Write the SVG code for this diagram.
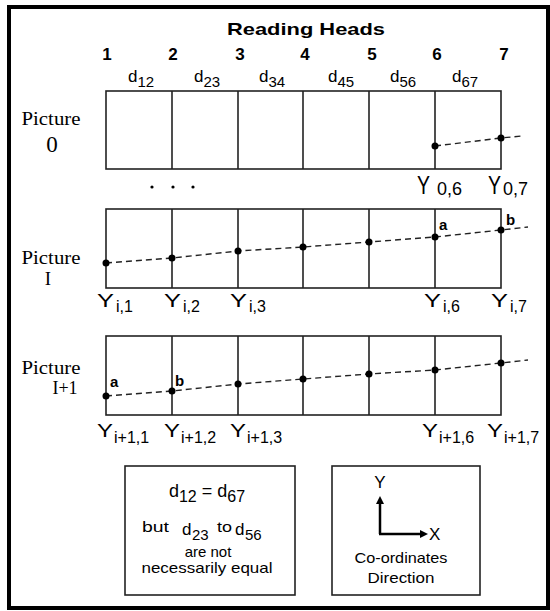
<svg xmlns="http://www.w3.org/2000/svg" width="550" height="611" viewBox="0 0 550 611">
<style>
.box{fill:none;stroke:#222;stroke-width:1.6}
.cell{stroke:#222;stroke-width:1.6}
.dash{fill:none;stroke:#222;stroke-width:1.4;stroke-dasharray:6 4}
.dot{fill:#000}
.sans{font-family:"Liberation Sans",Arial,sans-serif;fill:#000}
.serif{font-family:"Liberation Serif","Times New Roman",serif;fill:#000}
.b{font-weight:bold}
.num{font-family:"Liberation Sans",Arial,sans-serif;font-weight:bold;font-size:17px;text-anchor:middle}
.dl{font-family:"Liberation Sans",Arial,sans-serif;font-size:17px}
.ds{font-size:15px}
.pic{font-family:"Liberation Serif","Times New Roman",serif;font-size:19px;text-anchor:middle}
.Y{font-family:"Liberation Sans",Arial,sans-serif;font-size:19px}
.Y0{font-family:"Liberation Sans",Arial,sans-serif;font-size:26px}
.sub{font-family:"Liberation Sans",Arial,sans-serif;font-size:16px}
.sub0{font-family:"Liberation Sans",Arial,sans-serif;font-size:18px}
.ab{font-family:"Liberation Sans",Arial,sans-serif;font-size:15px;font-weight:bold}
.axis{stroke:#000;stroke-width:2.5;fill:none}
</style>
<rect x="0" y="0" width="550" height="611" fill="#fff"/>
<rect x="9" y="7" width="539" height="601" fill="none" stroke="#000" stroke-width="4"/>

<g id="header">
<text class="sans b" x="306" y="35" font-size="17" text-anchor="middle" textLength="158" lengthAdjust="spacingAndGlyphs">Reading Heads</text>
<text class="num" x="107" y="60">1</text>
<text class="num" x="173" y="60">2</text>
<text class="num" x="240" y="60">3</text>
<text class="num" x="305" y="60">4</text>
<text class="num" x="372" y="60">5</text>
<text class="num" x="437" y="60">6</text>
<text class="num" x="504" y="60">7</text>
<text class="dl" x="128" y="82">d<tspan class="ds" dy="5">12</tspan></text>
<text class="dl" x="194" y="82">d<tspan class="ds" dy="5">23</tspan></text>
<text class="dl" x="259" y="82">d<tspan class="ds" dy="5">34</tspan></text>
<text class="dl" x="328" y="82">d<tspan class="ds" dy="5">45</tspan></text>
<text class="dl" x="390" y="82">d<tspan class="ds" dy="5">56</tspan></text>
<text class="dl" x="452" y="82">d<tspan class="ds" dy="5">67</tspan></text>
</g>

<g id="picture0">
<text class="pic" x="51" y="125" textLength="59" lengthAdjust="spacingAndGlyphs">Picture</text>
<text class="serif" x="52" y="152" font-size="23" text-anchor="middle">0</text>
<rect class="box" x="106" y="91" width="395" height="78"/>
<line class="cell" x1="172" y1="91" x2="172" y2="169"/>
<line class="cell" x1="238" y1="91" x2="238" y2="169"/>
<line class="cell" x1="303" y1="91" x2="303" y2="169"/>
<line class="cell" x1="369" y1="91" x2="369" y2="169"/>
<line class="cell" x1="435" y1="91" x2="435" y2="169"/>
<text class="Y0" x="417" y="194" textLength="13" lengthAdjust="spacingAndGlyphs">Y</text>
<text class="sub0" x="437" y="195">0,6</text>
<text class="Y0" x="488" y="194" textLength="13" lengthAdjust="spacingAndGlyphs">Y</text>
<text class="sub0" x="503" y="195">0,7</text>
<circle class="dot" cx="152" cy="187" r="1.6"/>
<circle class="dot" cx="173" cy="187" r="1.6"/>
<circle class="dot" cx="193" cy="187" r="1.6"/>
</g>

<g id="pictureI">
<text class="pic" x="51" y="264" textLength="59" lengthAdjust="spacingAndGlyphs">Picture</text>
<text class="pic" x="48" y="285">I</text>
<rect class="box" x="106" y="209" width="395" height="79"/>
<line class="cell" x1="172" y1="209" x2="172" y2="288"/>
<line class="cell" x1="238" y1="209" x2="238" y2="288"/>
<line class="cell" x1="303" y1="209" x2="303" y2="288"/>
<line class="cell" x1="369" y1="209" x2="369" y2="288"/>
<line class="cell" x1="435" y1="209" x2="435" y2="288"/>
<text class="Y" x="97" y="307" textLength="17" lengthAdjust="spacingAndGlyphs">Y</text><text class="sub" x="116" y="312">i,1</text>
<text class="Y" x="164" y="307" textLength="17" lengthAdjust="spacingAndGlyphs">Y</text><text class="sub" x="183" y="312">i,2</text>
<text class="Y" x="230" y="307" textLength="17" lengthAdjust="spacingAndGlyphs">Y</text><text class="sub" x="249" y="312">i,3</text>
<text class="Y" x="424" y="307" textLength="17" lengthAdjust="spacingAndGlyphs">Y</text><text class="sub" x="443" y="312">i,6</text>
<text class="Y" x="491" y="307" textLength="17" lengthAdjust="spacingAndGlyphs">Y</text><text class="sub" x="510" y="312">i,7</text>
<text class="ab" x="439" y="230">a</text>
<text class="ab" x="506" y="225">b</text>
</g>

<g id="pictureI1">
<text class="pic" x="51" y="374" textLength="59" lengthAdjust="spacingAndGlyphs">Picture</text>
<text class="pic" x="65" y="394" style="font-size:18px">I+1</text>
<rect class="box" x="106" y="336" width="395" height="79"/>
<line class="cell" x1="172" y1="336" x2="172" y2="415"/>
<line class="cell" x1="238" y1="336" x2="238" y2="415"/>
<line class="cell" x1="303" y1="336" x2="303" y2="415"/>
<line class="cell" x1="369" y1="336" x2="369" y2="415"/>
<line class="cell" x1="435" y1="336" x2="435" y2="415"/>
<text class="Y" x="97" y="437" textLength="16" lengthAdjust="spacingAndGlyphs">Y</text><text class="sub" x="114" y="443">i+1,1</text>
<text class="Y" x="164" y="437" textLength="16" lengthAdjust="spacingAndGlyphs">Y</text><text class="sub" x="181" y="443">i+1,2</text>
<text class="Y" x="230" y="437" textLength="16" lengthAdjust="spacingAndGlyphs">Y</text><text class="sub" x="247" y="443">i+1,3</text>
<text class="Y" x="422" y="437" textLength="16" lengthAdjust="spacingAndGlyphs">Y</text><text class="sub" x="439" y="443">i+1,6</text>
<text class="Y" x="487" y="437" textLength="16" lengthAdjust="spacingAndGlyphs">Y</text><text class="sub" x="504" y="443">i+1,7</text>
<text class="ab" x="110" y="387">a</text>
<text class="ab" x="175" y="386">b</text>
</g>

<g id="connectors">
<polyline class="dash" points="435,146 501,138 522,136"/>
<polyline class="dash" points="106,263 172,258 238,251 303,247 369,242 435,237 501,230 528,227"/>
<polyline class="dash" points="106,396 172,391 238,384 303,379 369,374 435,370 501,363 528,360"/>
</g>
<g id="dots">
<circle class="dot" cx="435" cy="146" r="3.5"/>
<circle class="dot" cx="501" cy="138" r="3.5"/>
<circle class="dot" cx="106" cy="263" r="3.5"/>
<circle class="dot" cx="172" cy="258" r="3.5"/>
<circle class="dot" cx="238" cy="251" r="3.5"/>
<circle class="dot" cx="303" cy="247" r="3.5"/>
<circle class="dot" cx="369" cy="242" r="3.5"/>
<circle class="dot" cx="435" cy="237" r="3.5"/>
<circle class="dot" cx="501" cy="230" r="3.5"/>
<circle class="dot" cx="106" cy="396" r="3.5"/>
<circle class="dot" cx="172" cy="391" r="3.5"/>
<circle class="dot" cx="238" cy="384" r="3.5"/>
<circle class="dot" cx="303" cy="379" r="3.5"/>
<circle class="dot" cx="369" cy="374" r="3.5"/>
<circle class="dot" cx="435" cy="370" r="3.5"/>
<circle class="dot" cx="501" cy="363" r="3.5"/>
</g>

<g id="note">
<rect class="box" x="125" y="466" width="170" height="129"/>
<text class="sans" x="207" y="497" font-size="18" text-anchor="middle">d<tspan font-size="16" dy="5">12</tspan><tspan dy="-5"> = d</tspan><tspan font-size="16" dy="5">67</tspan></text>
<text class="sans" x="142" y="532" font-size="15" textLength="27" lengthAdjust="spacingAndGlyphs">but</text>
<text class="sans" x="182" y="535" font-size="17">d</text>
<text class="sans" x="192" y="540" font-size="15">23</text>
<text class="sans" x="217" y="532" font-size="15" textLength="15" lengthAdjust="spacingAndGlyphs">to</text>
<text class="sans" x="235" y="535" font-size="17">d</text>
<text class="sans" x="245" y="540" font-size="15">56</text>
<text class="sans" x="208" y="557" font-size="15" text-anchor="middle">are not</text>
<text class="sans" x="207" y="573" font-size="15" text-anchor="middle" textLength="131" lengthAdjust="spacingAndGlyphs">necessarily equal</text>
</g>

<g id="legend">
<rect class="box" x="332" y="466" width="148" height="129"/>
<text class="sans" x="380" y="488" font-size="17" text-anchor="middle">Y</text>
<line class="axis" x1="380" y1="534" x2="380" y2="503"/>
<polygon points="380,496 376,504 384,504" fill="#000"/>
<line class="axis" x1="379" y1="534" x2="421" y2="534"/>
<polygon points="428,534 420,530 420,538" fill="#000"/>
<text class="sans" x="429" y="540" font-size="17">X</text>
<text class="sans" x="401" y="563" font-size="15" text-anchor="middle" textLength="93" lengthAdjust="spacingAndGlyphs">Co-ordinates</text>
<text class="sans" x="401" y="583" font-size="15" text-anchor="middle" textLength="67" lengthAdjust="spacingAndGlyphs">Direction</text>
</g>
</svg>
